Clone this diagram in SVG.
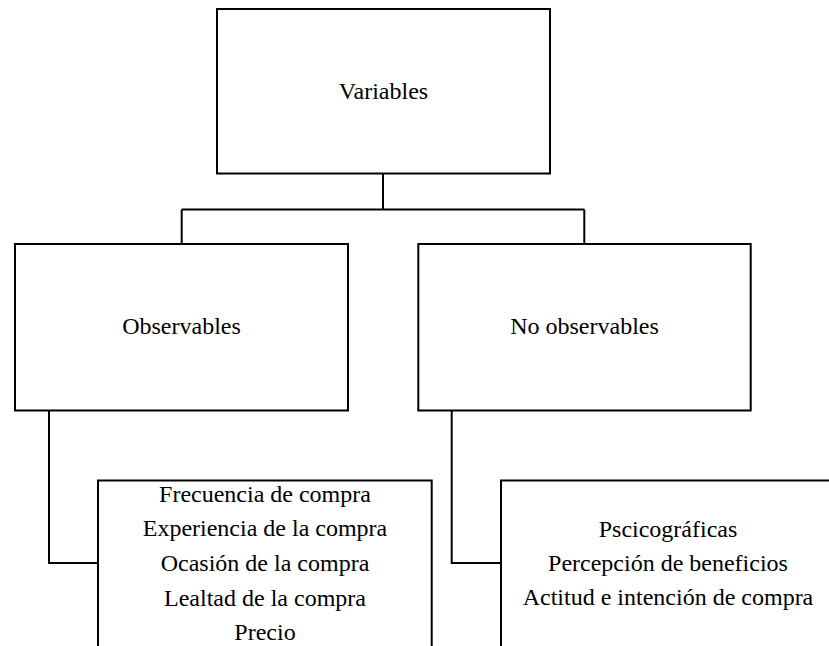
<svg xmlns="http://www.w3.org/2000/svg" width="829" height="646" viewBox="0 0 829 646">
<style>
.box{fill:#fff;stroke:#000;stroke-width:2}
.ln{fill:none;stroke:#000;stroke-width:2}
.t{font-family:'Liberation Serif','Times New Roman',Times,'DejaVu Serif',serif;font-size:24px;fill:#000;text-anchor:middle}
</style>
<rect width="829" height="646" fill="#fff"/>
<g id="connectors">
<path class="ln" d="M383,173 V209.5 M181.7,209.5 H584.3 M181.7,209.5 V244 M584.3,209.5 V244"/>
<path class="ln" d="M49,410.5 V563 H98"/>
<path class="ln" d="M451.7,410.5 V563 H501"/>
</g>
<g id="variables">
<rect class="box" x="217" y="9" width="333" height="164.5"/>
<text class="t" font-family="Liberation Serif, serif" x="383.5" y="99">Variables</text>
</g>
<g id="observables">
<rect class="box" x="15" y="244" width="333" height="166.5"/>
<text class="t" font-family="Liberation Serif, serif" x="181.5" y="334">Observables</text>
</g>
<g id="no-observables">
<rect class="box" x="418.3" y="244" width="332.4" height="166.5"/>
<text class="t" font-family="Liberation Serif, serif" x="584.5" y="334">No observables</text>
</g>
<g id="observables-list">
<rect class="box" x="98" y="480.5" width="333.7" height="180"/>
<text class="t" font-family="Liberation Serif, serif" x="265" y="501.5">Frecuencia de compra</text>
<text class="t" font-family="Liberation Serif, serif" x="265" y="536">Experiencia de la compra</text>
<text class="t" font-family="Liberation Serif, serif" x="265" y="571">Ocasión de la compra</text>
<text class="t" font-family="Liberation Serif, serif" x="265" y="605.5">Lealtad de la compra</text>
<text class="t" font-family="Liberation Serif, serif" x="265" y="640">Precio</text>
</g>
<g id="no-observables-list">
<rect class="box" x="501" y="480.5" width="340" height="180"/>
<text class="t" font-family="Liberation Serif, serif" x="668" y="536.5">Pscicográficas</text>
<text class="t" font-family="Liberation Serif, serif" x="668" y="571">Percepción de beneficios</text>
<text class="t" font-family="Liberation Serif, serif" x="668" y="605">Actitud e intención de compra</text>
</g>
</svg>
